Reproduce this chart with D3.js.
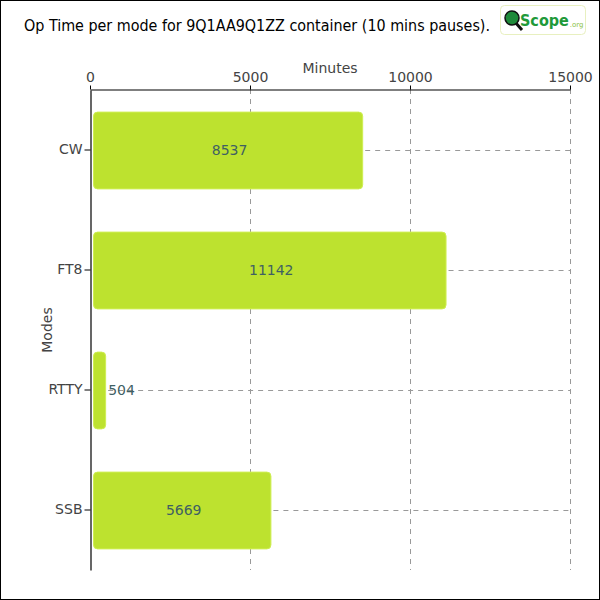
<!DOCTYPE html>
<html><head><meta charset="utf-8">
<script src="https://cdn.jsdelivr.net/npm/d3@7"></script>
<style>body{margin:0;background:#fff}svg{display:block}</style>
</head><body>
<script>
const modes = ["CW", "FT8", "RTTY", "SSB"];
const minutes = [8537, 11142, 504, 5669];
const xTicks = [0, 5000, 10000, 15000];
const titleText = "Op Time per mode for 9Q1AA9Q1ZZ container (10 mins pauses).";

const W = 600, H = 600;
const svg = d3.select("body").append("svg").attr("width", W).attr("height", H);
svg.append("rect").attr("x",0.5).attr("y",0.5).attr("width",W-1).attr("height",H-1)
  .attr("fill","#fff").attr("stroke","#000").attr("stroke-width",1);

const font = "'DejaVu Sans', sans-serif";
const x = d3.scaleLinear().domain([0,15000]).range([90,570]);
const y = d3.scaleBand().domain(modes).range([90,570]).paddingInner(0.36).paddingOuter(0.18);

// vertical grid
svg.append("g").selectAll("line").data(xTicks.slice(1)).join("line")
  .attr("x1",d=>x(d)+0.5).attr("x2",d=>x(d)+0.5).attr("y1",89).attr("y2",570)
  .attr("stroke","#999").attr("stroke-dasharray","5,5");

// horizontal grid lines from bar end
svg.append("g").selectAll("line").data(modes).join("line")
  .attr("x1",(d,i)=>x(minutes[i])+2).attr("x2",570)
  .attr("y1",d=>Math.round(y(d)+y.bandwidth()/2)+0.5).attr("y2",d=>Math.round(y(d)+y.bandwidth()/2)+0.5)
  .attr("stroke","#999").attr("stroke-dasharray","5,5");

// bars
svg.append("g").selectAll("rect").data(modes).join("rect")
  .attr("x",x(0)+3.5).attr("y",d=>y(d)+0.5)
  .attr("width",(d,i)=>x(minutes[i])-x(0)-4)
  .attr("height",y.bandwidth())
  .attr("rx",4).attr("ry",4)
  .attr("fill","#bde22f").attr("stroke","#cfee52").attr("stroke-width",1);

// value labels
svg.append("g").selectAll("text").data(modes).join("text")
  .attr("x",(d,i)=>{const w=x(minutes[i])-x(0); return w>60 ? x(0)+3+w/2 : x(minutes[i])+2;})
  .attr("text-anchor",(d,i)=> (x(minutes[i])-x(0))>60 ? "middle":"start")
  .attr("y",d=>y(d)+y.bandwidth()/2+5)
  .attr("font-family",font).attr("font-size",14).attr("fill","#3f6063")
  .text((d,i)=>minutes[i]);

// x axis (top)
const xa = svg.append("g").attr("transform","translate(0,89.5)")
  .call(d3.axisTop(x).tickValues(xTicks).tickSize(4).tickSizeOuter(0).tickFormat(d3.format("d")));
xa.select(".domain").attr("stroke","#000").attr("stroke-width",1.2);
xa.selectAll(".tick line").attr("stroke","#000").attr("stroke-width",1);
xa.selectAll("text").attr("font-family",font).attr("font-size",14).attr("fill","#444")
  .attr("dy","-0.05em");

// y axis
const ya = svg.append("g").attr("transform","translate(90.5,0)")
  .call(d3.axisLeft(y).tickSize(6).tickSizeOuter(0).tickPadding(2));
ya.select(".domain").attr("stroke","#000").attr("stroke-width",1.2);
ya.selectAll(".tick line").attr("stroke","#000");
ya.selectAll("text").attr("font-family",font).attr("font-size",14).attr("fill","#444");

// axis titles
svg.append("text").attr("x",330).attr("y",73).attr("text-anchor","middle")
  .attr("font-family",font).attr("font-size",14).attr("fill","#444").text("Minutes");
svg.append("text").attr("transform","translate(52,330) rotate(-90)").attr("text-anchor","middle")
  .attr("font-family",font).attr("font-size",14).attr("fill","#444").text("Modes");

// title
svg.append("text").attr("x",24).attr("y",31).attr("font-family",font).attr("font-size",16)
  .attr("font-stretch","condensed").attr("fill","#000")
  .attr("textLength",466).attr("lengthAdjust","spacingAndGlyphs").text(titleText);

// logo
const lg = svg.append("g").attr("transform","translate(500,5)");
lg.append("rect").attr("x",0.5).attr("y",0.5).attr("width",85).attr("height",29).attr("rx",4)
  .attr("fill","#fff").attr("stroke","#e8f0c0");
lg.append("line").attr("x1",15).attr("y1",17).attr("x2",22).attr("y2",25).attr("stroke","#111").attr("stroke-width",3);
lg.append("circle").attr("cx",12).attr("cy",13).attr("r",7).attr("fill","#1f8a3a").attr("stroke","#111").attr("stroke-width",1.5);
const lt = lg.append("text").attr("x",20).attr("y",21).attr("font-family",font);
lt.append("tspan").attr("font-size",16).attr("font-weight","bold").attr("font-stretch","condensed")
  .attr("fill","#1f9a3a").text("Scope");
lt.append("tspan").attr("font-size",7).attr("dx",1).attr("dy",1).attr("fill","#8bc34a").text(".org");
</script>
</body></html>
